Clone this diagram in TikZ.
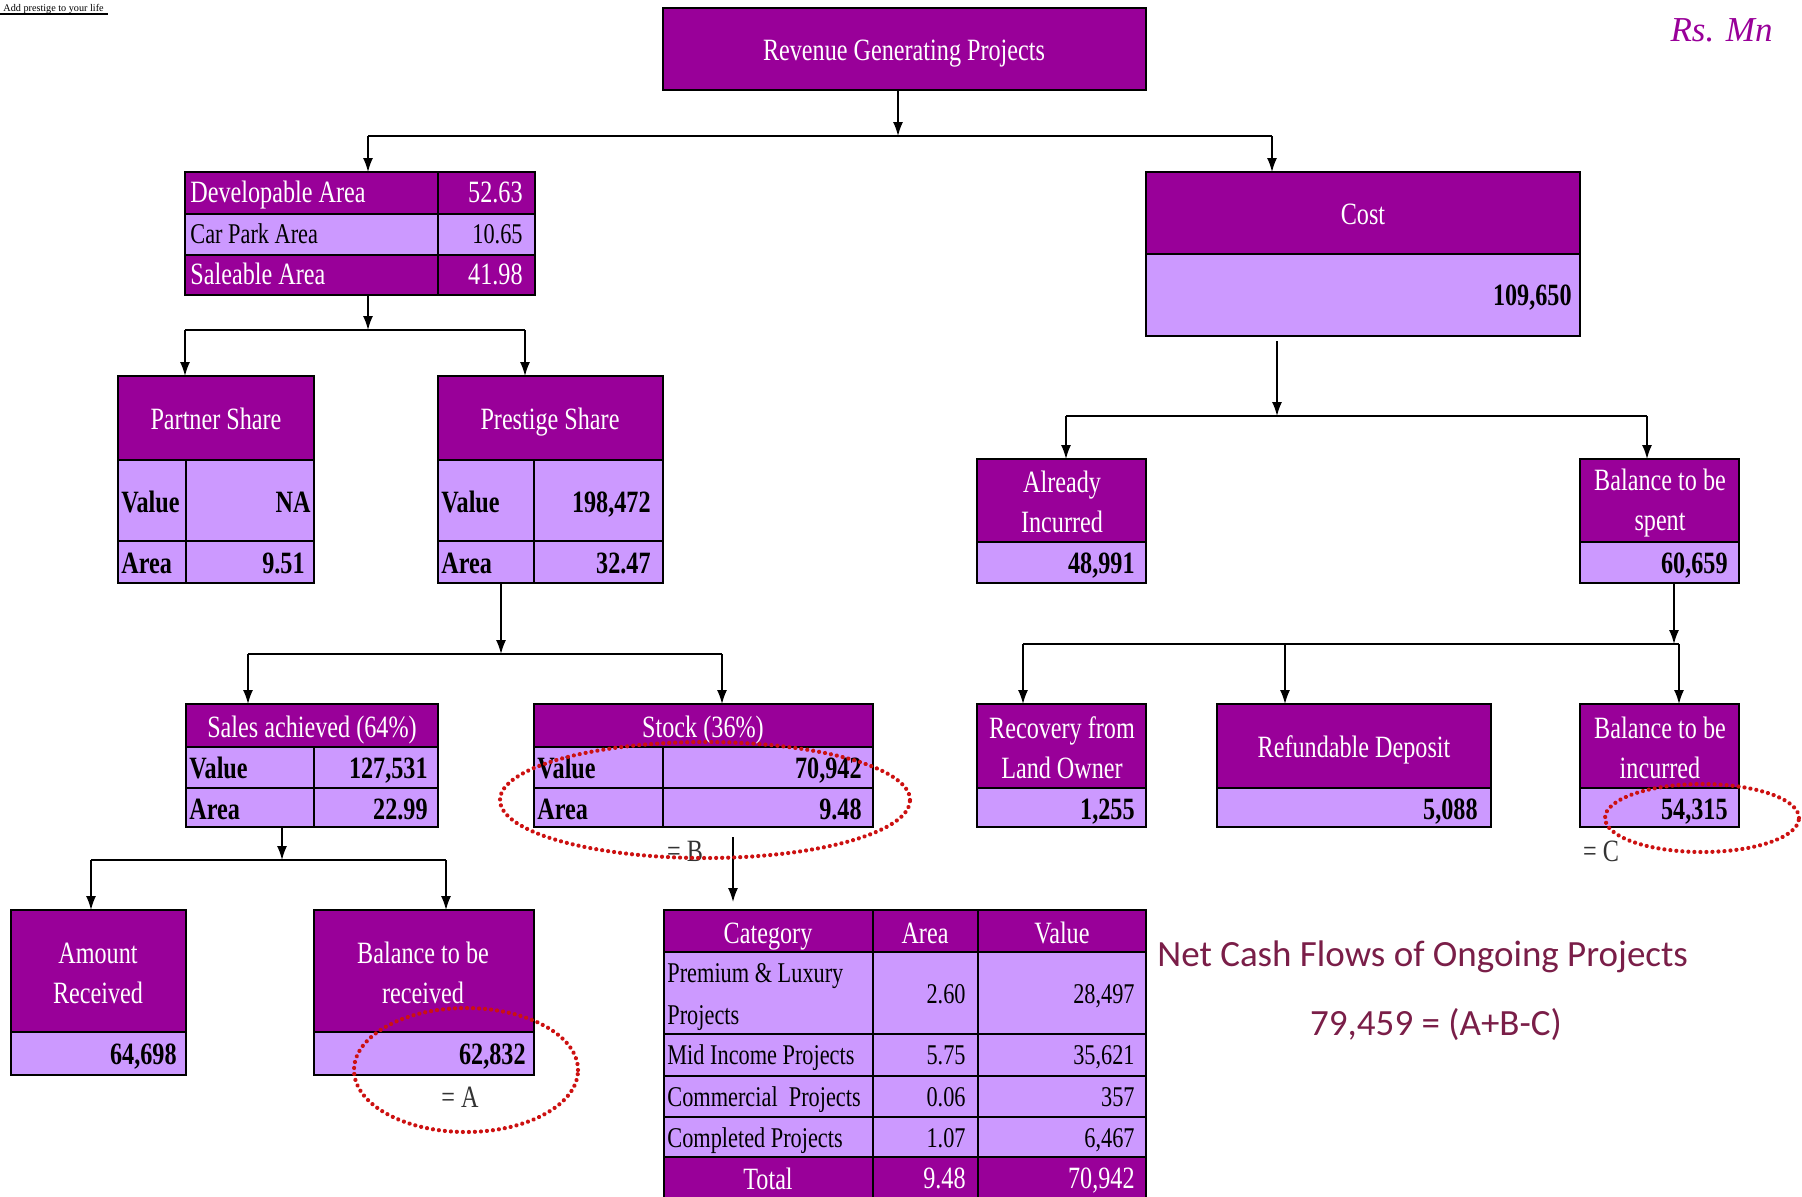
\documentclass[tikz,border=0pt]{standalone}
\usepackage{fontspec}
\setmainfont{Liberation Serif}[FakeStretch=0.78]
\newfontfamily\plainserif{Liberation Serif}
\newfontfamily\calibri{Carlito}
\usetikzlibrary{arrows.meta,fit}
\definecolor{P}{HTML}{990099}
\definecolor{L}{HTML}{CC99FF}
\definecolor{R}{HTML}{CC1111}
\definecolor{M}{HTML}{7A1E48}
\tikzset{
  cellP/.style={fill=P, draw=black, line width=1.3pt},
  cellL/.style={fill=L, draw=black, line width=1.3pt},
  lw/.style={draw=black, line width=1.3pt},
  fitbox/.style={inner sep=0pt, outer sep=0pt, draw=none},
  wt/.style={text=white, inner sep=0pt, font=\fontsize{15.5}{20}\selectfont},
  bt/.style={text=black, inner sep=0pt, font=\fontsize{15.5}{20}\selectfont\bfseries},
  rt/.style={text=black, inner sep=0pt, font=\fontsize{14.3}{20}\selectfont},
  eqlab/.style={text=black!80, inner sep=0pt, font=\fontsize{15.5}{20}\selectfont},
  lft/.style={anchor=base west, yshift=1.5pt},
  rgt/.style={anchor=base east, yshift=1.5pt},
  ctr/.style={anchor=base, yshift=1pt},
  arr/.style={-{Latex[length=7pt,width=5pt]}, line width=0.8pt},
  bar/.style={line width=1.1pt},
  oval/.style={draw=R, line width=2.1pt, dash pattern=on 0.01pt off 3pt, line cap=round},
  net/.style={text=M, inner sep=0pt, font=\calibri\fontsize{18.5}{22}\selectfont},
}
\begin{document}
\begin{tikzpicture}[x=0.5pt,y=-0.5pt]
\useasboundingbox (0,0) rectangle (1802,1196);

% top-left tag
\node[anchor=base west, inner sep=0pt, font=\plainserif\fontsize{5.1}{6}\selectfont] (tag) at (3,11) {Add prestige to your life};
\draw[line width=1.2pt] (0,14) -- (108,14);
% unit
\node[anchor=base east, inner sep=0pt, text=P, font=\plainserif\itshape\fontsize{17.5}{20}\selectfont] (unit) at (1773,41) {Rs. Mn};

% top box
\path[cellP] (663,8) rectangle (1146,90);
\node[fitbox, fit={(663,8) (1146,90)}] (top) {};
\node[wt, ctr] (ttop) at (904,62) {Revenue Generating Projects};

% developable table
\path[cellP] (185,172) rectangle (535,214);
\path[cellL] (185,214) rectangle (535,255);
\path[cellP] (185,255) rectangle (535,295);
\draw[lw] (438,172) -- (438,295);
\node[fitbox, fit={(185,172) (535,295)}] (dev) {};
\node[wt, lft] (d1) at (190,205) {Developable Area};
\node[wt, rgt] (d1v) at (523,205) {52.63};
\node[rt, lft] (d2) at (190,246) {Car Park Area};
\node[rt, rgt] (d2v) at (523,246) {10.65};
\node[wt, lft] (d3) at (190,287) {Saleable Area};
\node[wt, rgt] (d3v) at (523,287) {41.98};

% cost
\path[cellP] (1146,172) rectangle (1580,254);
\path[cellL] (1146,254) rectangle (1580,336);
\node[fitbox, fit={(1146,172) (1580,336)}] (cost) {};
\node[wt, ctr] (tcost) at (1363,226) {Cost};
\node[bt, rgt] (vcost) at (1572,308) {109,650};

% partner share
\path[cellP] (118,376) rectangle (314,460);
\path[cellL] (118,460) rectangle (314,583);
\draw[lw] (118,541) -- (314,541);
\draw[lw] (186,460) -- (186,583);
\node[fitbox, fit={(118,376) (314,583)}] (partner) {};
\node[wt, ctr] (tpartner) at (216,431) {Partner Share};
\node[bt, lft] (p1) at (121,515) {Value};
\node[bt, rgt] (p1v) at (311,515) {NA};
\node[bt, lft] (p2) at (121,576) {Area};
\node[bt, rgt] (p2v) at (305,576) {9.51};

% prestige share
\path[cellP] (438,376) rectangle (663,460);
\path[cellL] (438,460) rectangle (663,583);
\draw[lw] (438,541) -- (663,541);
\draw[lw] (534,460) -- (534,583);
\node[fitbox, fit={(438,376) (663,583)}] (prestige) {};
\node[wt, ctr] (tprestige) at (550,431) {Prestige Share};
\node[bt, lft] (q1) at (441,515) {Value};
\node[bt, rgt] (q1v) at (651,515) {198,472};
\node[bt, lft] (q2) at (441,576) {Area};
\node[bt, rgt] (q2v) at (651,576) {32.47};

% already incurred
\path[cellP] (977,459) rectangle (1146,542);
\path[cellL] (977,542) rectangle (1146,583);
\node[fitbox, fit={(977,459) (1146,583)}] (already) {};
\node[wt, align=center] (talready) at (1062,502) {Already\\Incurred};
\node[bt, rgt] (valready) at (1135,576) {48,991};

% balance to be spent
\path[cellP] (1580,459) rectangle (1739,542);
\path[cellL] (1580,542) rectangle (1739,583);
\node[fitbox, fit={(1580,459) (1739,583)}] (balspent) {};
\node[wt, align=center] (tbalspent) at (1660,503) {Balance to be\\spent};
\node[bt, rgt] (vbalspent) at (1728,576) {60,659};

% sales achieved
\path[cellP] (186,704) rectangle (438,747);
\path[cellL] (186,747) rectangle (438,827);
\draw[lw] (186,788) -- (438,788);
\draw[lw] (314,747) -- (314,827);
\node[fitbox, fit={(186,704) (438,827)}] (sales) {};
\node[wt, ctr] (tsales) at (312,739) {Sales achieved (64\%)};
\node[bt, lft] (s1) at (189,781) {Value};
\node[bt, rgt] (s1v) at (428,781) {127,531};
\node[bt, lft] (s2) at (189,822) {Area};
\node[bt, rgt] (s2v) at (428,822) {22.99};

% stock
\path[cellP] (534,704) rectangle (873,747);
\path[cellL] (534,747) rectangle (873,827);
\draw[lw] (534,788) -- (873,788);
\draw[lw] (663,747) -- (663,827);
\node[fitbox, fit={(534,704) (873,827)}] (stock) {};
\node[wt, ctr] (tstock) at (703,739) {Stock (36\%)};
\node[bt, lft] (k1) at (537,781) {Value};
\node[bt, rgt] (k1v) at (862,781) {70,942};
\node[bt, lft] (k2) at (537,822) {Area};
\node[bt, rgt] (k2v) at (862,822) {9.48};

% recovery from land owner
\path[cellP] (977,704) rectangle (1146,788);
\path[cellL] (977,788) rectangle (1146,827);
\node[fitbox, fit={(977,704) (1146,827)}] (recovery) {};
\node[wt, align=center] (trecovery) at (1062,748) {Recovery from\\Land Owner};
\node[bt, rgt] (vrecovery) at (1135,822) {1,255};

% refundable deposit
\path[cellP] (1217,704) rectangle (1491,788);
\path[cellL] (1217,788) rectangle (1491,827);
\node[fitbox, fit={(1217,704) (1491,827)}] (refund) {};
\node[wt, ctr] (trefund) at (1354,759) {Refundable Deposit};
\node[bt, rgt] (vrefund) at (1478,822) {5,088};

% balance to be incurred
\path[cellP] (1580,704) rectangle (1739,788);
\path[cellL] (1580,788) rectangle (1739,827);
\node[fitbox, fit={(1580,704) (1739,827)}] (balinc) {};
\node[wt, align=center] (tbalinc) at (1660,748) {Balance to be\\incurred};
\node[bt, rgt] (vbalinc) at (1728,822) {54,315};

% amount received
\path[cellP] (11,910) rectangle (186,1032);
\path[cellL] (11,1032) rectangle (186,1075);
\node[fitbox, fit={(11,910) (186,1075)}] (amount) {};
\node[wt, align=center] (tamount) at (98,973) {Amount\\Received};
\node[bt, rgt] (vamount) at (177,1067) {64,698};

% balance to be received
\path[cellP] (314,910) rectangle (534,1032);
\path[cellL] (314,1032) rectangle (534,1075);
\node[fitbox, fit={(314,910) (534,1075)}] (balrec) {};
\node[wt, align=center] (tbalrec) at (423,973) {Balance to be\\received};
\node[bt, rgt] (vbalrec) at (526,1067) {62,832};

% category table
\path[cellP] (664,910) rectangle (1146,952);
\path[cellL] (664,952) rectangle (1146,1157);
\path[cellP] (664,1157) rectangle (1146,1199);
\draw[lw] (664,1034) -- (1146,1034);
\draw[lw] (664,1076) -- (1146,1076);
\draw[lw] (664,1117) -- (1146,1117);
\draw[lw] (873,910) -- (873,1199);
\draw[lw] (978,910) -- (978,1199);
\node[fitbox, fit={(664,910) (1146,1199)}] (cat) {};
\node[wt, ctr] (ch1) at (768,945) {Category};
\node[wt, ctr] (ch2) at (925,945) {Area};
\node[wt, ctr] (ch3) at (1062,945) {Value};
\node[rt, lft] (c1a) at (667,985) {Premium \& Luxury};
\node[rt, lft] (c1b) at (667,1027) {Projects};
\node[rt, rgt] (c1c) at (966,1006) {2.60};
\node[rt, rgt] (c1d) at (1135,1006) {28,497};
\node[rt, lft] (c2a) at (667,1067) {Mid Income Projects};
\node[rt, rgt] (c2c) at (966,1067) {5.75};
\node[rt, rgt] (c2d) at (1135,1067) {35,621};
\node[rt, lft] (c3a) at (667,1109) {Commercial~ Projects};
\node[rt, rgt] (c3c) at (966,1109) {0.06};
\node[rt, rgt] (c3d) at (1135,1109) {357};
\node[rt, lft] (c4a) at (667,1150) {Completed Projects};
\node[rt, rgt] (c4c) at (966,1150) {1.07};
\node[rt, rgt] (c4d) at (1135,1150) {6,467};
\node[wt, ctr] (c5a) at (768,1191) {Total};
\node[wt, rgt] (c5c) at (966,1191) {9.48};
\node[wt, rgt] (c5d) at (1135,1191) {70,942};

% connectors
\coordinate (j1) at (898,136);
\coordinate (j1l) at (368,136);
\coordinate (j1r) at (1272,136);
\draw[arr] (top.south -| j1) -- (j1);
\draw[bar] (j1l) -- (j1r);
\draw[arr] (j1l) -- (j1l |- dev.north);
\draw[arr] (j1r) -- (j1r |- cost.north);

\coordinate (j2) at (368,330);
\coordinate (j2l) at (185,330);
\coordinate (j2r) at (525,330);
\draw[arr] (dev.south -| j2) -- (j2);
\draw[bar] (j2l) -- (j2r);
\draw[arr] (j2l) -- (j2l |- partner.north);
\draw[arr] (j2r) -- (j2r |- prestige.north);

\coordinate (j3) at (1277,416);
\coordinate (j3l) at (1066,416);
\coordinate (j3r) at (1647,416);
\draw[arr, shorten <=2.5pt] (cost.south -| j3) -- (j3);
\draw[bar] (j3l) -- (j3r);
\draw[arr] (j3l) -- (j3l |- already.north);
\draw[arr] (j3r) -- (j3r |- balspent.north);

\coordinate (j4) at (501,654);
\coordinate (j4l) at (248,654);
\coordinate (j4r) at (722,654);
\draw[arr] (prestige.south -| j4) -- (j4);
\draw[bar] (j4l) -- (j4r);
\draw[arr] (j4l) -- (j4l |- sales.north);
\draw[arr] (j4r) -- (j4r |- stock.north);

\coordinate (j5) at (1674,644);
\coordinate (j5l) at (1023,644);
\coordinate (j5m) at (1285,644);
\coordinate (j5r) at (1679,644);
\draw[arr] (balspent.south -| j5) -- (j5);
\draw[bar] (j5l) -- (j5r);
\draw[arr] (j5l) -- (j5l |- recovery.north);
\draw[arr] (j5m) -- (j5m |- refund.north);
\draw[arr] (j5r) -- (j5r |- balinc.north);

\coordinate (j6) at (282,860);
\coordinate (j6l) at (91,860);
\coordinate (j6r) at (446,860);
\draw[arr] (sales.south -| j6) -- (j6);
\draw[bar] (j6l) -- (j6r);
\draw[arr] (j6l) -- (j6l |- amount.north);
\draw[arr] (j6r) -- (j6r |- balrec.north);

\coordinate (j7) at (733,870);
\draw[arr, shorten <=5pt, shorten >=4pt] (stock.south -| j7) -- (j7 |- cat.north);

% equals labels
\node[eqlab] (eqb) at (685,851) {= B};
\node[eqlab] (eqa) at (460,1097) {= A};
\node[eqlab] (eqc) at (1601,851) {= C};

% red dotted ovals
\draw[oval] (705,800) ellipse [x radius=102.5pt, y radius=29pt];
\draw[oval] (466,1070) ellipse [x radius=56pt, y radius=31pt];
\draw[oval] (1702,818) ellipse [x radius=48.5pt, y radius=17pt];

% net cash flows
\node[net, anchor=mid west] (nc1) at (1157,962) {Net Cash Flows of Ongoing Projects};
\node[net] (nc2) at (1436,1025) {79,459 = (A+B-C)};
\end{tikzpicture}
\end{document}
